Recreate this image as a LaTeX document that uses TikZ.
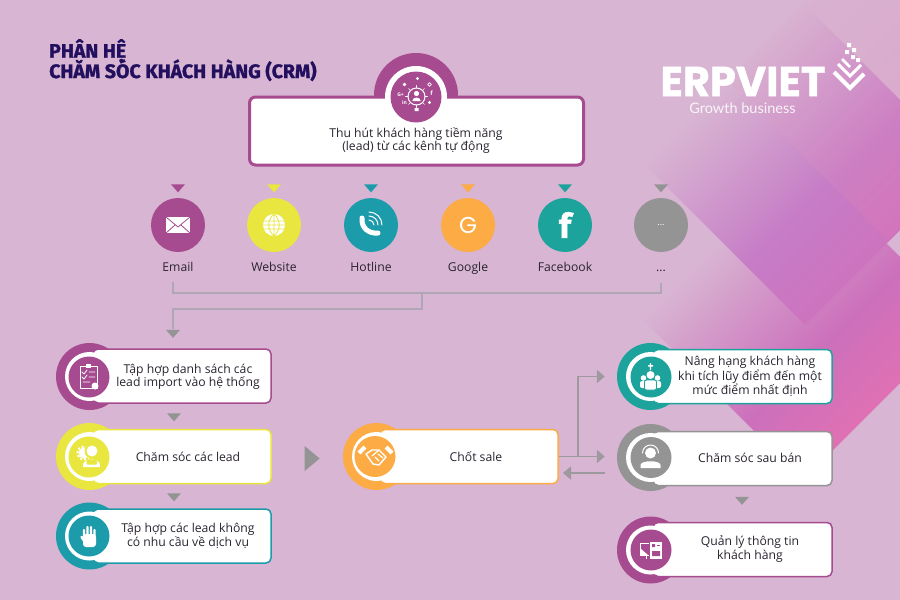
\documentclass[tikz,border=0pt]{standalone}
\usepackage{fontspec}
\setmainfont{Open Sans}
\newfontfamily\titlefont{Fira Sans}[BoldFeatures={FakeBold=1.4}]
\newfontfamily\logofont{Poppins}[BoldFeatures={FakeBold=1.2}]
\newfontfamily\slogfont{Lato}
\usetikzlibrary{arrows.meta,shapes.geometric}
\definecolor{bgc}{HTML}{D8B5D2}
\definecolor{purpleC}{HTML}{A64B8F}
\definecolor{yellowC}{HTML}{E8E63F}
\definecolor{blueC}{HTML}{1C9BAA}
\definecolor{orangeC}{HTML}{FCAB45}
\definecolor{greenC}{HTML}{1BA39C}
\definecolor{grayC}{HTML}{949494}
\definecolor{lineC}{HTML}{AFA7B5}
\definecolor{inkC}{HTML}{2A2430}
\definecolor{titleC}{HTML}{22105F}
\definecolor{midB}{HTML}{CC70BC}
\definecolor{endB}{HTML}{F070AC}
\definecolor{midA}{HTML}{C67CC6}
\definecolor{endA}{HTML}{D46CB8}
\definecolor{endC}{HTML}{E86FB0}
\pgfdeclareverticalshading{diamondB}{100bp}{color(0bp)=(endB); color(22bp)=(endB); color(45bp)=(midB); color(68bp)=(bgc); color(100bp)=(bgc)}
\pgfdeclareverticalshading{diamondA}{100bp}{color(0bp)=(endA); color(22bp)=(endA); color(45bp)=(midA); color(68bp)=(bgc); color(100bp)=(bgc)}

\begin{document}
\begin{tikzpicture}[x=1pt,y=-1pt,>={Triangle[length=8pt,width=13pt]},
channel/.style={circle, fill=#1, minimum size=54pt, inner sep=0pt},
outerc/.style={circle, fill=#1, minimum size=67pt, inner sep=0pt},
ringc/.style={circle, fill=white, minimum size=49pt, inner sep=0pt},
innerc/.style={circle, fill=#1, minimum size=41pt, inner sep=0pt},
stepbox/.style={draw=#1, fill=white, line width=1.5pt, rounded corners=5pt, minimum width=178pt, minimum height=54pt, inner sep=0pt},
steptext/.style={font=\fontsize{12.2pt}{13.4pt}\selectfont, text=inkC, align=center, inner sep=0pt},
chanlabel/.style={font=\fontsize{12.2pt}{13pt}\selectfont, text=inkC, inner sep=0pt, text height=9pt, text depth=3pt},
downtri/.style={isosceles triangle, isosceles triangle stretches, shape border rotate=-90, fill=#1, minimum width=14pt, minimum height=8pt, inner sep=0pt},
bus/.style={draw=lineC, line width=1.6pt},
flow/.style={->, draw=grayC!85!bgc, line width=1.5pt, color=grayC!85!bgc},
glyph/.style={draw=white, line width=#1, line cap=round, line join=round}]
\useasboundingbox (0,0) rectangle (900,600);
\fill[bgc] (0,0) rectangle (900,600);
\begin{scope}
\clip (0,0) rectangle (900,600);
\shade[shading=diamondB, shading angle=45] (803,160) -- (963,320) -- (803,480) -- (643,320) -- cycle;
\shade[shading=diamondA, shading angle=45] (805,5) -- (965,165) -- (805,325) -- (645,165) -- cycle;
\shade[left color=bgc, right color=endC, shading angle=45, opacity=.25] (887,-80) -- (1047,80) -- (887,240) -- (727,80) -- cycle;
\end{scope}

% title and logo
\node[font=\titlefont\bfseries\fontsize{19.5pt}{21pt}\selectfont, text=titleC, align=left, anchor=north west, inner sep=0pt] (title) at (49,39) {PHÂN HỆ\\[-4pt]CHĂM SÓC KHÁCH HÀNG (CRM)};
\node[font=\logofont\bfseries\fontsize{41.5pt}{41.5pt}\selectfont, text=white, inner sep=0pt, text height=29pt, text depth=0pt] (logo) at (743,81.5) {ERPVIET};
\node[font=\slogfont\fontsize{14.5pt}{16pt}\selectfont, text=white!85!bgc, inner sep=0pt] (slogan) at (742.5,108.5) {Growth business};
\draw[glyph=4pt, line cap=butt, line join=miter] (834,72) -- (850,88) -- (864,74);
\draw[glyph=3pt, line cap=butt, line join=miter] (838,64) -- (850,76) -- (861,65);
\draw[glyph=2.5pt, line cap=butt] (842,59) -- (850,67);
\fill[white] (847,43) rectangle +(4,4) (852,48) rectangle +(4,4) (845,50) rectangle +(4,4) (851,55) rectangle +(4,4) (856,58) rectangle +(4,4);

% lead box
\node[outerc=purpleC, minimum size=84pt] (leadO) at (416,95) {};
\node[draw=purpleC, fill=white, line width=3pt, rounded corners=6pt, minimum width=334pt, minimum height=68pt, inner sep=0pt] (leadB) at (416.5,131) {};
\node[ringc, minimum size=62pt] (leadR) at (416,97) {};
\node[innerc=purpleC, minimum size=51pt] (leadI) at (416,97) {};
\node[steptext] (leadT) at (416,140.5) {Thu hút khách hàng tiềm năng\\(lead) từ các kênh tự động};
\begin{scope}[shift={(416.5,96.5)}]
\draw[glyph=1pt] (0,0) circle (8.5);
\fill[white] (0,-3) circle (2.6) (-4.2,4.5) .. controls (-4.2,0) and (4.2,0) .. (4.2,4.5) -- cycle;
\draw[glyph=.6pt] (0,-8.5) -- (0,-11) (0,8.5) -- (0,11) (-8.5,0) -- (-11,0) (8.5,0) -- (11,0) (-6,-6) -- (-8,-8) (6,-6) -- (8,-8) (-6,6) -- (-8,8) (6,6) -- (8,8);
\node[font=\fontsize{5pt}{5pt}\selectfont\bfseries, text=white, inner sep=0pt] (iconG) at (-16,-2) {G+};
\node[font=\fontsize{6pt}{6pt}\selectfont\bfseries, text=white, inner sep=0pt] (iconF) at (15,-3) {f};
\node[font=\fontsize{5pt}{5pt}\selectfont\bfseries, text=white, inner sep=0pt] (iconI) at (-12,6) {in};
\fill[white] (1,-18) circle (1.6) (-12,-12) circle (1.8) (13,6) circle (1.6) (-2,11.5) rectangle (2,14.5);
\draw[glyph=.7pt] (13,-12) circle (1.8);
\end{scope}

% channels
\node[downtri=purpleC] (triEmail) at (178,187.5) {};
\node[downtri=yellowC] (triWeb) at (274,187.5) {};
\node[downtri=blueC] (triHot) at (371,187.5) {};
\node[downtri=orangeC] (triGoogle) at (468,187.5) {};
\node[downtri=greenC] (triFace) at (565,187.5) {};
\node[downtri=grayC] (triMore) at (661,187.5) {};
\node[channel=purpleC] (email) at (178,225) {};
\node[channel=yellowC] (website) at (274,225) {};
\node[channel=blueC] (hotline) at (371,225) {};
\node[channel=orangeC, font=\logofont\fontsize{23pt}{23pt}\selectfont, text=white] (google) at (468,225) {G};
\node[channel=greenC, font=\titlefont\bfseries\fontsize{34pt}{34pt}\selectfont, text=white] (facebook) at (565,225) {f};
\node[channel=grayC, font=\fontsize{9pt}{9pt}\selectfont, text=white] (more) at (661,225) {...};
\node[chanlabel, below=37pt] at (178,225) (emailL) {Email};
\node[chanlabel, below=37pt] at (274,225) (websiteL) {Website};
\node[chanlabel, below=37pt] at (371,225) (hotlineL) {Hotline};
\node[chanlabel, below=37pt] at (468,225) (googleL) {Google};
\node[chanlabel, below=37pt] at (565,225) (facebookL) {Facebook};
\node[chanlabel, below=37pt] at (661,225) (moreL) {...};
\fill[white] (166,217) rectangle (190,233);
\draw[purpleC, line width=.8pt] (166,217) -- (178,227) -- (190,217) (166,233) -- (175,225) (190,233) -- (181,225);
\fill[white] (274,225) circle (11);
\draw[yellowC, line width=.8pt] (263,221) -- (285,221) (263,229) -- (285,229) (263,225) -- (285,225) (274,214) -- (274,236) (274,214) .. controls (267,220) and (267,230) .. (274,236) (274,214) .. controls (281,220) and (281,230) .. (274,236);
\draw[glyph=5pt] (362,218) .. controls (361,228) and (369,234) .. (378,233);
\draw[glyph=1pt] (369,216) arc (-90:0:9) (369,212) arc (-90:0:13) (369,220) arc (-90:0:5);

% connectors of the channels
\coordinate (busL) at (173,282); \coordinate (busR) at (661,283); \coordinate (busM) at (422,293); \coordinate (busD) at (422,309); \coordinate (listIn) at (173,329);
\draw[bus] (busL) |- (busM) -| (busR);
\draw[bus] (busM) -- (busD) -| (listIn);
\node[downtri=grayC] (triList) at (173,333) {};

% left column
\node[outerc=purpleC] (listO) at (89.5,376.5) {};
\node[stepbox=purpleC] (listB) at (182,376) {};
\node[ringc] (listR) at (89.5,376.5) {};
\node[innerc=purpleC] (listI) at (89,377) {};
\node[steptext] (listT) at (188,377) {Tập hợp danh sách các\\lead import vào hệ thống};
\draw[glyph=1pt] (80,366) rectangle (97,388);
\fill[white] (86,363.5) rectangle (91,368);
\draw[glyph=.8pt] (89,372) -- (95,372) (89,377) -- (95,377) (83,382) -- (90,382) (82,372) -- (84,374) -- (87,370) (82,377) -- (84,379) -- (87,375);
\fill[white] (95,386) circle (3.5);

\node[downtri=grayC] (triCare) at (174,416.5) {};
\node[outerc=yellowC] (careO) at (89.5,456.5) {};
\node[stepbox=yellowC] (careB) at (182,456.5) {};
\node[ringc] (careR) at (89.5,456.5) {};
\node[innerc=yellowC] (careI) at (89,457) {};
\node[steptext] (careT) at (188,457) {Chăm sóc các lead};
\draw[white, line width=2pt, dash pattern=on 2pt off 2pt] (84,453) circle (6.5);
\fill[white] (84,453) circle (5.5);
\fill[yellowC] (92,451) circle (7.5);
\fill[white] (92,451) circle (5.5) (83,467) .. controls (81,457) and (102,457) .. (100,467) -- cycle;
\fill[yellowC, rounded corners=1pt] (86.5,460) rectangle (97,464.5);

\node[downtri=grayC] (triDrop) at (174,496.5) {};
\node[outerc=blueC] (dropO) at (89.5,536) {};
\node[stepbox=blueC] (dropB) at (182,536) {};
\node[ringc] (dropR) at (89.5,536) {};
\node[innerc=blueC] (dropI) at (89,536) {};
\node[steptext] (dropT) at (188,536) {Tập hợp các lead không\\có nhu cầu về dịch vụ};
\fill[white, rounded corners=3pt] (83,534) rectangle (96,547);
\draw[glyph=2.4pt] (84,538) -- (84,530) (87.5,538) -- (87.5,527) (91,538) -- (91,527) (94.5,538) -- (94.5,530) (85,542) -- (81.5,537);

% closing
\node[isosceles triangle, isosceles triangle stretches, fill=grayC, minimum width=25pt, minimum height=15pt, inner sep=0pt] (triSale) at (310.5,458.5) {};
\node[outerc=orangeC] (saleO) at (376.5,456.5) {};
\node[stepbox=orangeC] (saleB) at (469,456.5) {};
\node[ringc] (saleR) at (376.5,456.5) {};
\node[innerc=orangeC] (saleI) at (375,456.5) {};
\node[steptext] (saleT) at (476,457) {Chốt sale};
\draw[glyph=1.4pt] (366,454) -- (372,450) -- (379,450) -- (386,457) -- (379,465) -- (373,464) -- cycle;
\draw[glyph=1.2pt] (379,450) -- (372,456) (379,461) -- (375,457) (383,458) -- (378,454);
\draw[white, line width=4pt] (359,453) -- (365,447) (392,453) -- (386,447);

% right column
\node[outerc=greenC] (rankO) at (650.5,376.5) {};
\node[stepbox=greenC, minimum width=179pt] (rankB) at (742.5,376.5) {};
\node[ringc] (rankR) at (650.5,376.5) {};
\node[innerc=greenC] (rankI) at (651,377) {};
\node[steptext] (rankT) at (750,376.5) {Nâng hạng khách hàng\\khi tích lũy điểm đến một\\mức điểm nhất định};
\fill[white] (650.5,375) circle (4) (643.5,378) circle (2.8) (657.5,378) circle (2.8);
\fill[white, rounded corners=2pt] (640,388) rectangle (647,381) (654,388) rectangle (661,381);
\draw[greenC, fill=white, rounded corners=2pt, line width=.8pt] (644.5,390) -- (644.5,380) -- (656.5,380) -- (656.5,390) -- cycle;
\fill[white] (649.8,363) rectangle (651.2,370) (648,365) rectangle (653,366.5);

\node[outerc=grayC] (afterO) at (650.5,457.5) {};
\node[stepbox=grayC, minimum width=179pt] (afterB) at (742.5,458.5) {};
\node[ringc] (afterR) at (650.5,457.5) {};
\node[innerc=grayC] (afterI) at (651,457.5) {};
\node[steptext] (afterT) at (750,458) {Chăm sóc sau bán};
\fill[white] (650.5,453) circle (5.5) (640.5,468) -- (640.5,465) .. controls (641,460) and (660,460) .. (660.5,465) -- (660.5,468) -- cycle;
\draw[glyph=1pt] (642.5,453) arc (180:360:8);

\node[downtri=grayC] (triInfo) at (742,500) {};
\node[outerc=purpleC] (infoO) at (650.5,550) {};
\node[stepbox=purpleC, minimum width=179pt] (infoB) at (742.5,549.5) {};
\node[ringc] (infoR) at (650.5,550) {};
\node[innerc=purpleC] (infoI) at (651,550) {};
\node[steptext] (infoT) at (750,549) {Quản lý thông tin\\khách hàng};
\draw[glyph=1pt, line cap=butt] (640,543) rectangle (651,555) (646,555) -- (646,559);
\fill[white] (640,548) -- (648,555) -- (640,555) -- cycle;
\draw[purpleC, fill=white, line width=.8pt] (649,541) rectangle (662,559);
\fill[purpleC] (652,544) rectangle (655,547) (652,551) rectangle (660,556);
\draw[purpleC, line width=.6pt] (656.5,545.5) -- (660,545.5);

% flows
\coordinate (saleFork) at (578,456.5); \coordinate (backEnd) at (563,473); \coordinate (backStart) at (605,473);
\draw[flow, shorten >=12pt] (saleB.east) -- (afterO.west |- saleB.east);
\draw[flow, shorten >=12pt] (saleFork) |- (rankO.west);
\draw[flow] (backStart) -- (backEnd);
\end{tikzpicture}
\end{document}
